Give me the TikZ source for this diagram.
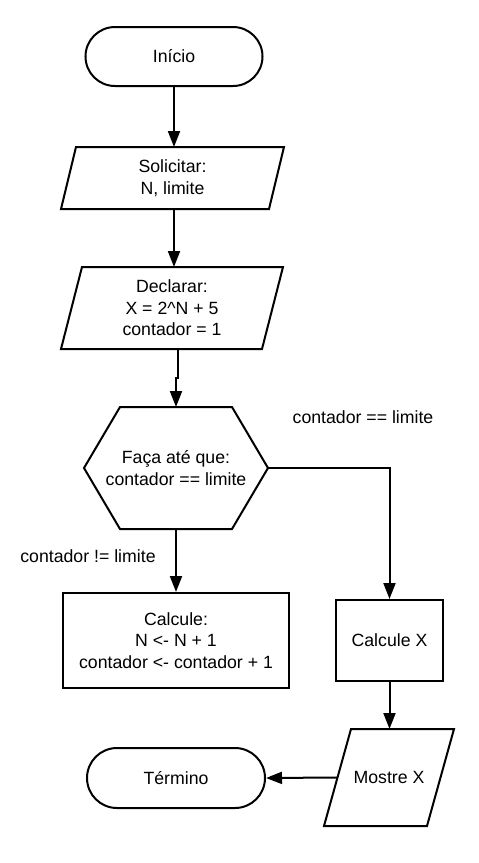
\documentclass[tikz,border=0pt]{standalone}
\usepackage{fontspec}
\setmainfont{Liberation Sans}
\usetikzlibrary{arrows.meta,shapes.misc}
\begin{document}
\begin{tikzpicture}[x=1pt,y=-1pt,
  line width=2pt,
  every node/.style={font=\fontsize{17.7}{21.5}\selectfont, align=center, inner sep=0pt},
  term/.style={rounded rectangle, draw, minimum width=#1, minimum height=59pt},
  frame/.style={rectangle, draw=none},
  box/.style={rectangle, draw},
  arr/.style={-{Triangle[length=16pt,width=12pt]}},
  lbl/.style={}]
\useasboundingbox (0,0) rectangle (479,863);
% nodes
\node[term=177pt] (inicio) at (174,56.5) {Início};
\node[frame, minimum width=221pt, minimum height=60pt] (solic) at (172.5,178) {Solicitar:\\N, limite\hspace{8pt}};
\node[frame, minimum width=220pt, minimum height=80pt] (decl) at (172,308) {Declarar:\\X = 2\^{}N + 5\\contador = 1};
\node[frame, minimum width=182pt, minimum height=120pt] (hex) at (176,468) {Faça até que:\\contador == limite};
\node[box, minimum width=226pt, minimum height=95pt] (calc) at (176,640.5) {Calcule:\\N <- N + 1\\contador <- contador + 1};
\node[box, minimum width=107pt, minimum height=81pt] (calcx) at (389.5,640.5) {Calcule X};
\node[frame, minimum width=128pt, minimum height=95pt] (mostre) at (389,777.5) {Mostre X};
\node[term=178pt, minimum height=60pt] (termino) at (176,778) {Término};
\node[lbl] (lblyes) at (363,417) {contador == limite};
\node[lbl] (lblno) at (88,556) {contador != limite};
% outlines
\draw ([xshift=15pt]solic.north west) -- (solic.north east) -- ([xshift=-15pt]solic.south east) -- (solic.south west) -- cycle;
\draw ([xshift=21pt]decl.north west) -- (decl.north east) -- ([xshift=-21pt]decl.south east) -- (decl.south west) -- cycle;
\draw ([xshift=36pt]hex.north west) -- ([xshift=-36pt]hex.north east) -- (hex.east) -- ([xshift=-36pt]hex.south east) -- ([xshift=36pt]hex.south west) -- (hex.west) -- cycle;
\draw ([xshift=27pt]mostre.north west) -- (mostre.north east) -- ([xshift=-27pt]mostre.south east) -- (mostre.south west) -- cycle;
% connectors
\draw[arr] (inicio.south) -- (inicio.south |- solic.north);
\draw[arr] (inicio.south |- solic.south) -- (inicio.south |- decl.north);
\draw[arr] ([xshift=6pt]decl.south) |- ([yshift=29pt]hex.north) -- (hex.north);
\draw[arr] (hex.east) -| (calcx.north);
\draw[arr] (hex.south) -- (calc.north);
\draw[arr] (calcx.south) -- (calcx.south |- mostre.north);
\draw[arr] ([xshift=13.5pt]mostre.west) -- (termino.east);
\end{tikzpicture}
\end{document}
